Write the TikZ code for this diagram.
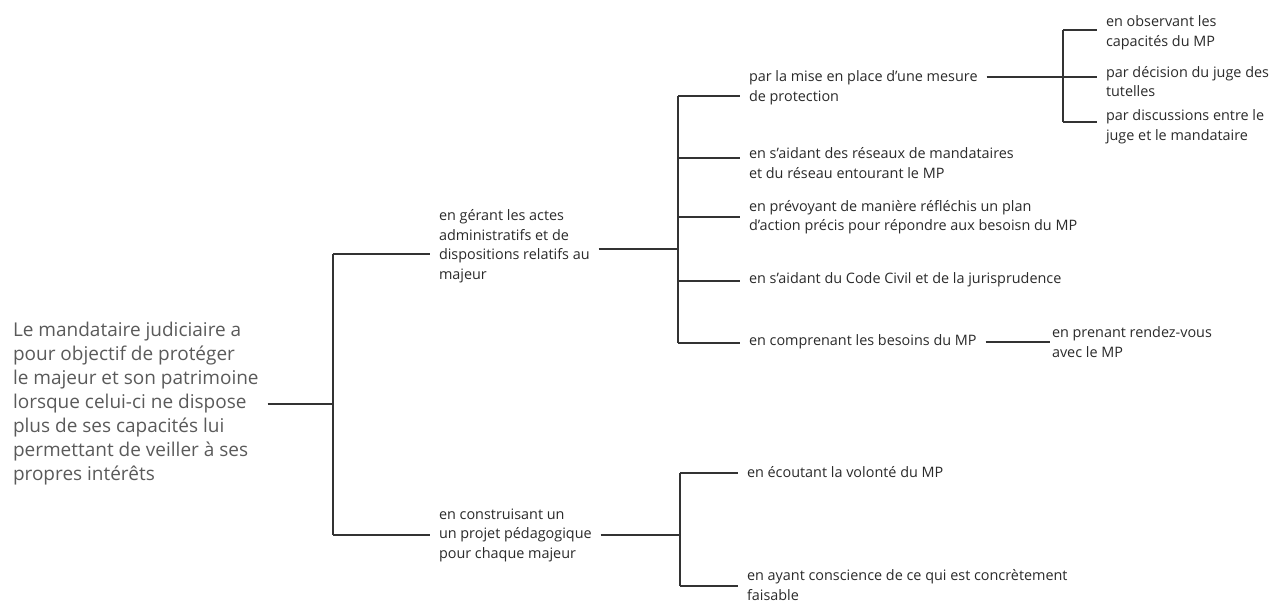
\documentclass[tikz,border=0pt]{standalone}
\usepackage{fontspec}
\setmainfont{Open Sans}
\definecolor{ink}{HTML}{2A2A2A}
\definecolor{slate}{HTML}{5A5A5A}
\definecolor{wire}{HTML}{333333}

\begin{document}
\begin{tikzpicture}[x=1pt, y=-1pt,
  wire/.style={draw=wire, line width=1.6pt},
  leaf/.style={font=\fontsize{14.4}{19.5}\selectfont, text=ink, align=left,
    anchor=west, inner sep=0pt, outer xsep=9pt},
  rootnode/.style={leaf, font=\fontsize{19}{24}\selectfont, text=slate}]
  \useasboundingbox (0,0) rectangle (1282,603);

  % ── Root statement ──
  \node[rootnode] (root) at (4,404) {Le mandataire judiciaire a\\pour objectif de protéger\\le majeur et son patrimoine\\lorsque celui-ci ne dispose\\plus de ses capacités lui\\permettant de veiller à ses\\propres intérêts};

  % ── Trunk ──
  \coordinate (t0) at (333,404);
  \coordinate (t1) at (333,254);
  \coordinate (t2) at (333,535);
  \draw[wire] (root.east) -- (t0);
  \draw[wire] (t1) -- (t2);

  % ── Two ways of acting ──
  \node[leaf] (gerant) at (430,246) {en gérant les actes\\administratifs et de\\dispositions relatifs au\\majeur};
  \node[leaf] (projet) at (430,535) {en construisant un\\un projet pédagogique\\pour chaque majeur};
  \draw[wire] (t1) -- (t1 -| gerant.west);
  \draw[wire] (t2) -- (t2 -| projet.west);

  % ── Means of the administrative branch ──
  \node[leaf] (prot) at (740,88) {par la mise en place d'une mesure\\de protection};
  \node[leaf] (reseau) at (740,163) {en s'aidant des réseaux de mandataires\\et du réseau entourant le MP};
  \node[leaf] (prevoy) at (740,217) {en prévoyant de manière réfléchis un plan\\d'action précis pour répondre aux besoisn du MP};
  \node[leaf] (code) at (740,280) {en s'aidant du Code Civil et de la jurisprudence};
  \node[leaf] (besoin) at (740,342) {en comprenant les besoins du MP};

  \coordinate (b0) at (678,249);
  \draw[wire] (gerant.east |- b0) -- (b0);
  \foreach \n/\y in {prot/96, reseau/158, prevoy/217, code/281, besoin/343} {
    \coordinate (b-\n) at (678,\y);
    \draw[wire] (b-\n) -- (b-\n -| \n.west);
  }
  \draw[wire] (b-prot) -- (b-besoin);

  % ── How the protection is set up ──
  \node[leaf] (obs) at (1097,33) {en observant les\\capacités du MP};
  \node[leaf] (dec) at (1097,81.5) {par décision du juge des\\tutelles};
  \node[leaf] (disc) at (1097,127) {par discussions entre le\\juge et le mandataire};

  \coordinate (c0) at (1063,77);
  \draw[wire] (prot.east |- c0) -- (c0);
  \foreach \n/\y in {obs/30, dec/77, disc/122} {
    \coordinate (c-\n) at (1063,\y);
    \draw[wire] (c-\n) -- (c-\n -| \n.west);
  }
  \draw[wire] (c-obs) -- (c-disc);

  % ── Meeting the person ──
  \node[leaf, outer xsep=2pt] (rdv) at (1050,342) {en prenant rendez-vous\\avec le MP};
  \draw[wire] (besoin.east |- rdv.west) -- (rdv.west);

  % ── Means of the educational branch ──
  \node[leaf] (ecoute) at (738,472) {en écoutant la volonté du MP};
  \node[leaf] (faisable) at (738,585) {en ayant conscience de ce qui est concrètement\\faisable};

  \coordinate (d0) at (680,535);
  \draw[wire] (projet.east |- d0) -- (d0);
  \foreach \n/\y in {ecoute/473, faisable/586} {
    \coordinate (d-\n) at (680,\y);
    \draw[wire] (d-\n) -- (d-\n -| \n.west);
  }
  \draw[wire] (d-ecoute) -- (d-faisable);

\end{tikzpicture}
\end{document}
